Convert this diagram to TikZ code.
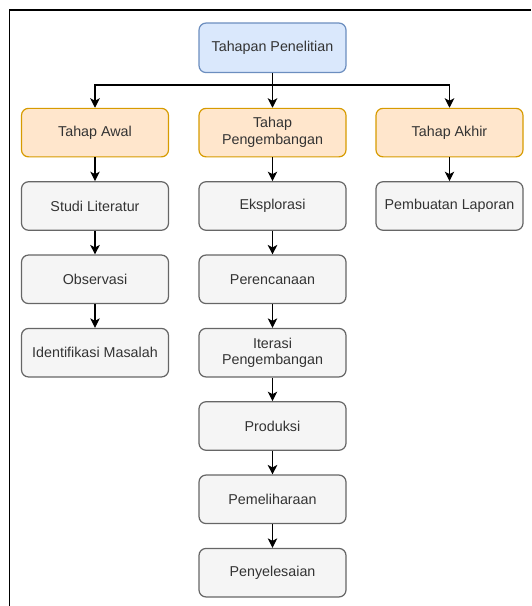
\documentclass[tikz,border=0pt]{standalone}
\usepackage{fontspec}
\setmainfont{Liberation Sans}
\usetikzlibrary{arrows.meta}
\definecolor{bluefill}{HTML}{DAE8FC}
\definecolor{bluedraw}{HTML}{6C8EBF}
\definecolor{orangefill}{HTML}{FFE6CC}
\definecolor{orangedraw}{HTML}{D79B00}
\definecolor{greyfill}{HTML}{F5F5F5}
\definecolor{greydraw}{HTML}{666666}
\definecolor{greytext}{HTML}{333333}
\tikzset{
  box/.style={rectangle, rounded corners=7pt, line width=1.2pt,
    minimum width=147pt, minimum height=48.5pt, inner sep=2pt,
    align=center, font=\fontsize{14.3}{16.7}\selectfont},
  rootbox/.style={box, fill=bluefill, draw=bluedraw, text=greytext},
  phasebox/.style={box, fill=orangefill, draw=orangedraw, text=greytext},
  stepbox/.style={box, fill=greyfill, draw=greydraw, text=greytext},
  arr/.style={line width=1.2pt, -{Stealth[length=9.5pt, width=9.5pt, inset=2.5pt]}},
}
\begin{document}
\begin{tikzpicture}[x={(1pt,0)}, y={(0,-1pt)}]
  \useasboundingbox (0,0) rectangle (531,606);
  % frame (top and left edges)
  \draw[line width=1.2pt] (9.5,606) -- (9.5,10) -- (531,10);

  % root
  \node[rootbox, minimum height=49.5pt] (root) at (272.5,47.8) {Tahapan Penelitian};

  % phases
  \node[phasebox] (awal)  at (95,132.6)    {Tahap Awal};
  \node[phasebox] (kemb)  at (272.5,132.6) {Tahap\\Pengembangan};
  \node[phasebox] (akhir) at (449.5,132.6) {Tahap Akhir};

  % first phase
  \node[stepbox] (studi) at (95,206)   {Studi Literatur};
  \node[stepbox] (obs)   at (95,279.3) {Observasi};
  \node[stepbox] (ident) at (95,352.7) {Identifikasi Masalah};

  % development phase
  \node[stepbox] (eksp)  at (272.5,206)   {Eksplorasi};
  \node[stepbox] (renc)  at (272.5,279.3) {Perencanaan};
  \node[stepbox] (iter)  at (272.5,352.7) {Iterasi\\Pengembangan};
  \node[stepbox] (prod)  at (272.5,426)   {Produksi};
  \node[stepbox] (pelh)  at (272.5,499.3) {Pemeliharaan};
  \node[stepbox] (selesai) at (272.5,572.7) {Penyelesaian};

  % final phase
  \node[stepbox] (lapor) at (449.5,206) {Pembuatan Laporan};

  % branching from the root
  \coordinate (bus) at (272.5,85);
  \draw[arr] (root.south) -- (bus) -| (awal.north);
  \draw[arr] (bus) -| (akhir.north);
  \draw[arr] (root.south) -- (kemb.north);

  % chains
  \draw[arr] (awal) -- (studi);
  \draw[arr] (studi) -- (obs);
  \draw[arr] (obs) -- (ident);
  \draw[arr] (kemb) -- (eksp);
  \draw[arr] (eksp) -- (renc);
  \draw[arr] (renc) -- (iter);
  \draw[arr] (iter) -- (prod);
  \draw[arr] (prod) -- (pelh);
  \draw[arr] (pelh) -- (selesai);
  \draw[arr] (akhir) -- (lapor);
\end{tikzpicture}
\end{document}
